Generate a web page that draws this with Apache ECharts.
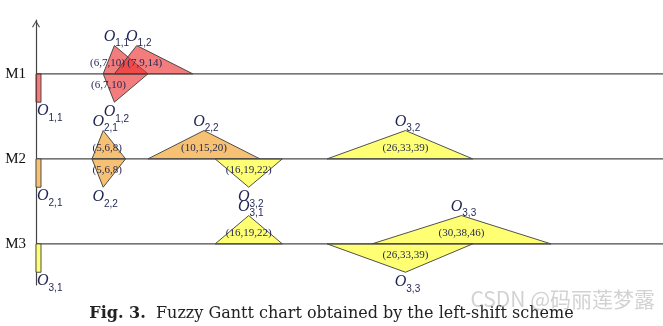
<!DOCTYPE html>
<html><head><meta charset="utf-8">
<script src="https://cdn.jsdelivr.net/npm/echarts@6/dist/echarts.min.js"></script>
<style>html,body{margin:0;padding:0;background:#fff}#c{width:663px;height:326px}</style>
</head><body><div id="c"></div>
<script>
// ---- data ----
const machines = ['M1', 'M2', 'M3'];
const startOps = ['1,1', '2,1', '3,1'];
const opNames = ['1,1', '1,2', '1,2', '2,1', '2,2', '2,2', '3,2', '3,2', '3,1', '3,3', '3,3'];
const opMachine = [0, 0, 0, 1, 1, 1, 1, 1, 2, 2, 2];
const opSide = [1, 1, -1, 1, 1, -1, 1, -1, 1, 1, -1];
const opLow = [6, 7, 6, 5, 10, 5, 26, 16, 16, 30, 26];
const opMid = [7, 9, 7, 6, 15, 6, 33, 19, 19, 38, 33];
const opHigh = [10, 14, 10, 8, 20, 8, 39, 22, 22, 46, 39];
const caption = 'Fuzzy Gantt chart obtained by the left-shift scheme';
const figLabel = 'Fig. 3.';
const watermark = 'CSDN @码丽莲梦露';

// ---- style ----
const X_MAX = 56;
const jobColors = ['rgba(236,45,45,0.62)', '#F6C172', '#FFFF74'];
const labelNudge = [-7, 8, -6, 4, 0, 4, 0, 0, 0, 0, 0];
const edge = '#3c3c3c';
const textCol = '#1f2450';
const serif = '"Liberation Serif", "DejaVu Serif", serif';
const capFont = '"DejaVu Serif", serif';

function machineY(m) { return 3 * (machines.length - m); }
function oLabel(name) { return '{o|O}{s|' + name + '}'; }
const oRich = {
  o: { fontFamily: serif, fontStyle: 'italic', fontSize: 16, fill: textCol, verticalAlign: 'top', padding: [0, 0, 4, 0] },
  s: { fontFamily: '"Liberation Sans", sans-serif', fontSize: 10, fill: textCol, verticalAlign: 'bottom' }
};

const opData = opNames.map((n, i) => [opLow[i], opMid[i], opHigh[i], opMachine[i], opSide[i], i]);

const chart = echarts.init(document.getElementById('c'), null, { renderer: 'canvas' });
chart.setOption({
  animation: false,
  backgroundColor: '#fff',
  title: {
    text: '{b|' + figLabel + '}  ' + caption,
    left: 'center', top: 301,
    textStyle: {
      fontFamily: capFont, fontSize: 16, fontWeight: 'normal', color: '#222',
      rich: { b: { fontFamily: capFont, fontSize: 16, fontWeight: 'bold', color: '#222' } }
    }
  },
  graphic: [{
    type: 'text', right: 8, top: 289, z: 100,
    style: { text: watermark, fontSize: 21, fontFamily: '"Noto Sans CJK SC", sans-serif', fill: 'rgba(165,165,165,0.5)' }
  }],
  grid: { left: 36, right: 0, top: 20, bottom: 41 },
  xAxis: { type: 'value', min: 0, max: X_MAX, show: false },
  yAxis: {
    type: 'value', min: 1.55, max: 10.9,
    axisLine: {
      show: true, onZero: false,
      lineStyle: { color: '#444', width: 1.2 },
      symbol: ['none', 'path://M0,8L5,0L10,8L8.8,8.6L5,2.2L1.2,8.6Z'],
      symbolSize: [8, 8], symbolOffset: [0, -4]
    },
    axisTick: { show: false }, axisLabel: { show: false }, splitLine: { show: false }
  },
  series: [
    {
      type: 'custom', name: 'ops', z: 2,
      data: opData,
      encode: { x: [0, 1, 2] },
      renderItem: function (params, api) {
        const i = api.value(5);
        const m = api.value(3), side = api.value(4);
        const yb = machineY(m);
        const p0 = api.coord([api.value(0), yb]);
        const p1 = api.coord([api.value(1), yb + side]);
        const p2 = api.coord([api.value(2), yb]);
        const job = parseInt(opNames[i].split(',')[0], 10) - 1;
        const fuzzy = '(' + opLow[i] + ',' + opMid[i] + ',' + opHigh[i] + ')';
        return {
          type: 'group',
          children: [
            { type: 'polygon', shape: { points: [p0, p1, p2] },
              style: { fill: jobColors[job], stroke: edge, lineWidth: 0.9 } },
            { type: 'text', z2: 5,
              style: { text: fuzzy, x: p1[0] + labelNudge[i], y: p0[1] - side * 11,
                align: 'center', verticalAlign: 'middle',
                fontFamily: serif, fontSize: 11, fill: textCol } },
            { type: 'text', z2: 5,
              style: { text: oLabel(opNames[i]), rich: oRich,
                x: p1[0] + 2, y: side > 0 ? p1[1] + 3 : p1[1] + 2,
                align: 'center', verticalAlign: side > 0 ? 'bottom' : 'top' } }
          ]
        };
      }
    },
    {
      type: 'custom', name: 'machines', z: 3,
      data: machines.map((m, i) => [0, i]),
      renderItem: function (params, api) {
        const m = api.value(1);
        const yb = machineY(m);
        const a = api.coord([0, yb]);
        const b = api.coord([X_MAX, yb]);
        const c = api.coord([0, yb - 1]);
        const job = m;
        return {
          type: 'group',
          children: [
            { type: 'line', shape: { x1: a[0], y1: a[1], x2: b[0], y2: b[1] },
              style: { stroke: '#4a4a4a', lineWidth: 1.4 } },
            { type: 'rect', shape: { x: a[0], y: a[1], width: 5, height: c[1] - a[1] },
              style: { fill: jobColors[job], stroke: edge, lineWidth: 0.9 } },
            { type: 'text',
              style: { text: machines[m], x: a[0] - 10, y: a[1], align: 'right', verticalAlign: 'middle',
                fontFamily: serif, fontSize: 15, fill: '#111' } },
            { type: 'text',
              style: { text: oLabel(startOps[m]), rich: oRich, x: a[0] + 1, y: c[1] + 1,
                align: 'left', verticalAlign: 'top' } }
          ]
        };
      }
    }
  ]
});
</script></body></html>
